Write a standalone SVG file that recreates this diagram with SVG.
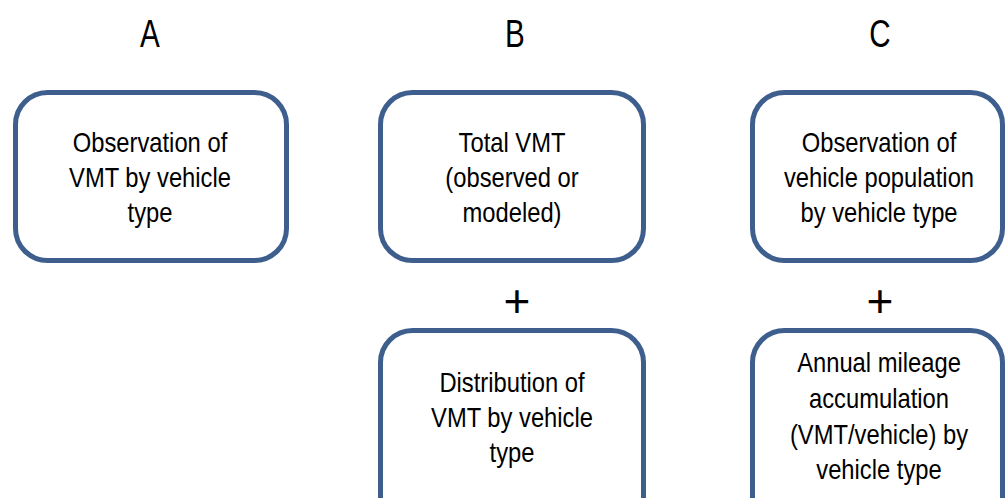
<svg xmlns="http://www.w3.org/2000/svg" width="1005" height="498" viewBox="0 0 1005 498">
<style>
.box{fill:#ffffff;stroke:#3e5f8e;stroke-width:5}
.t{font-family:"Liberation Sans",Arial,sans-serif;font-size:27px;fill:#000;text-anchor:middle}
.h{font-family:"Liberation Sans",Arial,sans-serif;font-size:38px;fill:#000;text-anchor:middle}
.p{font-family:"Liberation Sans",Arial,sans-serif;font-size:46px;fill:#000;text-anchor:middle}
</style>
<rect width="1005" height="498" fill="#ffffff"/>
<g id="headers">
<text class="h" transform="matrix(0.78 0 0 1 150 0)" x="0" y="47">A</text>
<text class="h" transform="matrix(0.78 0 0 1 515 0)" x="0" y="47">B</text>
<text class="h" transform="matrix(0.78 0 0 1 880 0)" x="0" y="47">C</text>
</g>
<g id="nodeA">
<rect class="box" x="15.5" y="92.5" width="271" height="168" rx="32"/>
<g transform="matrix(0.88 0 0 1 150 0)">
<text class="t" x="0" y="152">Observation of</text>
<text class="t" x="0" y="187">VMT by vehicle</text>
<text class="t" x="0" y="222">type</text>
</g>
</g>
<g id="nodeB1">
<rect class="box" x="380.5" y="92.5" width="263" height="168" rx="32"/>
<g transform="matrix(0.88 0 0 1 512 0)">
<text class="t" x="0" y="152">Total VMT</text>
<text class="t" x="0" y="187">(observed or</text>
<text class="t" x="0" y="222">modeled)</text>
</g>
</g>
<g id="nodeB2">
<rect class="box" x="380.5" y="330.5" width="263" height="200" rx="32"/>
<g transform="matrix(0.88 0 0 1 512 0)">
<text class="t" x="0" y="392">Distribution of</text>
<text class="t" x="0" y="427">VMT by vehicle</text>
<text class="t" x="0" y="462">type</text>
</g>
</g>
<g id="nodeC1">
<rect class="box" x="752.5" y="92.5" width="250" height="168" rx="32"/>
<g transform="matrix(0.88 0 0 1 879 0)">
<text class="t" x="0" y="152">Observation of</text>
<text class="t" x="0" y="187">vehicle population</text>
<text class="t" x="0" y="222">by vehicle type</text>
</g>
</g>
<g id="nodeC2">
<rect class="box" x="752.5" y="330.5" width="250" height="200" rx="32"/>
<g transform="matrix(0.88 0 0 1 879 0)">
<text class="t" x="0" y="372">Annual mileage</text>
<text class="t" x="0" y="408">accumulation</text>
<text class="t" x="0" y="444">(VMT/vehicle) by</text>
<text class="t" x="0" y="479">vehicle type</text>
</g>
</g>
<g id="connectors">
<text class="p" x="517" y="317">+</text>
<text class="p" x="880" y="317">+</text>
</g>
</svg>
